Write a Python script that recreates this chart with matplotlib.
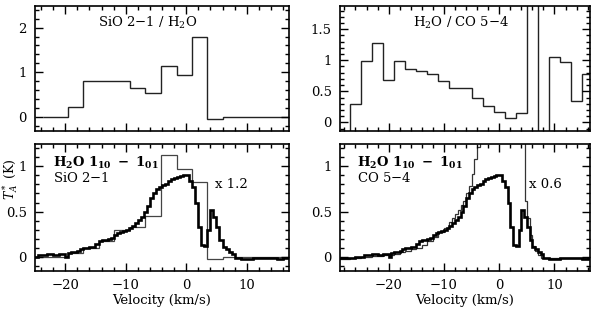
import matplotlib
matplotlib.use("Agg")
import matplotlib.pyplot as plt
from matplotlib.ticker import MultipleLocator

plt.rcParams["font.family"] = ["DejaVu Serif"]
plt.rcParams["mathtext.fontset"] = "dejavuserif"
plt.rcParams["font.size"] = 9.5

# --- ratio SiO 2-1 / H2O (top left) ---
sio_ratio_edges = [-23.7, -19.6, -17.0, -14.5, -11.9, -9.3, -6.8, -4.2, -1.6, 1.0, 3.5, 6.1, 17.0]
sio_ratio = [0.0, 0.22, 0.81, 0.81, 0.81, 0.64, 0.53, 1.13, 0.93, 1.79, -0.06, 0.0]

# --- ratio H2O / CO 5-4 (top right) ---
co_ratio_edges = [-29, -27, -25, -23, -21, -19, -17, -15, -13, -11, -9, -7, -5, -3, -1,
                  1, 3, 5, 7, 9, 11, 13, 15, 17]
co_ratio = [-0.5, 0.29, 0.98, 1.28, 0.68, 0.98, 0.86, 0.83, 0.78, 0.67, 0.56, 0.55,
            0.40, 0.27, 0.16, 0.07, 0.15, 5.0, -3.0, 1.06, 0.97, 0.34, 0.78]

# --- H2O 1_10 - 1_01 spectrum (thick, both bottom panels) ---
h2o_edges = [-29, -27.5, -26, -24.5, -23, -22, -21, -20, -19.5, -19, -18, -17.5, -17,
             -16, -15.5, -15, -14.5, -14, -13.5, -13, -12.5, -12, -11.5, -11, -10.5,
             -10, -9.5, -9, -8.5, -8, -7.5, -7, -6.5, -6, -5.5, -5, -4.5, -4, -3.5,
             -3, -2.5, -2, -1.5, -1, -0.5, 0, 0.5, 1.0, 1.5, 2.0, 2.5, 3.0, 3.5, 4.0,
             4.5, 5.0, 5.5, 6.0, 6.5, 7.0, 7.5, 8.0, 9, 10, 11, 12, 13, 14, 15, 16, 17]
h2o = [-0.02, -0.01, 0.0, 0.02, 0.03, 0.02, 0.03, 0.0, 0.04, 0.05, 0.06, 0.09,
       0.10, 0.11, 0.11, 0.14, 0.17, 0.19, 0.18, 0.20, 0.21, 0.24, 0.26, 0.27, 0.29,
       0.30, 0.32, 0.34, 0.37, 0.41, 0.44, 0.49, 0.56, 0.65, 0.71, 0.75, 0.77, 0.79,
       0.81, 0.84, 0.86, 0.87, 0.88, 0.89, 0.90, 0.91, 0.84, 0.77, 0.60, 0.33, 0.13,
       0.12, 0.30, 0.52, 0.44, 0.33, 0.19, 0.11, 0.08, 0.05, 0.03, -0.01, -0.03,
       -0.03, -0.02, -0.01, -0.01, -0.01, -0.03, -0.01]

# --- SiO 2-1 x 1.2 (thin, bottom left) ---
sio_edges = [-25.0, -19.6, -17.0, -14.5, -11.9, -9.3, -6.8, -4.2, -1.6, 1.0, 3.5, 6.1, 17.0]
sio = [0.0, 0.04, 0.10, 0.17, 0.30, 0.33, 0.45, 1.13, 0.97, 0.83, -0.03, 0.0]

# --- CO 5-4 x 0.6 (thin, bottom right) ---
co_edges = [-29, -27, -25, -23, -21, -19, -18, -17, -16, -15, -14, -13, -12, -11, -10,
            -9, -8.5, -8, -7.5, -7, -6.5, -6, -5.5, -5, -4.5, -4, -3.5, -3, -2, -1, 0,
            1, 2, 3, 4, 4.6, 5, 5.5, 6, 6.5, 7, 7.5, 8, 9, 10, 12, 14, 17]
co = [-0.03, -0.02, 0.0, 0.01, 0.02, 0.03, 0.05, 0.06, 0.08, 0.10, 0.13, 0.17, 0.22,
      0.27, 0.32, 0.38, 0.43, 0.47, 0.52, 0.57, 0.62, 0.70, 0.78, 0.92, 1.08, 1.22,
      1.45, 1.8, 2.2, 2.5, 2.6, 2.4, 2.0, 1.6, 1.4, 0.62, 0.43, 0.24, 0.12, 0.06,
      0.02, -0.01, -0.02, -0.02, -0.02, -0.01, -0.01]


def style_axes(ax, ymajor, yminor):
    ax.xaxis.set_major_locator(MultipleLocator(10))
    ax.xaxis.set_minor_locator(MultipleLocator(2))
    ax.yaxis.set_major_locator(MultipleLocator(ymajor))
    ax.yaxis.set_minor_locator(MultipleLocator(yminor))
    ax.tick_params(which="both", direction="in", top=True, right=True, width=1.0)
    ax.tick_params(which="major", length=6, pad=6)
    ax.tick_params(which="minor", length=3)
    for sp in ax.spines.values():
        sp.set_linewidth(1.2)


fig = plt.figure(figsize=(5.95, 3.12), dpi=100)
ax_tl = fig.add_axes([0.0588, 0.580, 0.427, 0.400])
ax_tr = fig.add_axes([0.5714, 0.580, 0.420, 0.400])
ax_bl = fig.add_axes([0.0588, 0.131, 0.427, 0.408])
ax_br = fig.add_axes([0.5714, 0.131, 0.420, 0.408])

# top left
ax_tl.stairs(sio_ratio, sio_ratio_edges, baseline=None, color="#222222", lw=1.0)
ax_tl.set_xlim(-25, 17)
ax_tl.set_ylim(-0.32, 2.48)
style_axes(ax_tl, 1, 0.2)
ax_tl.set_xticklabels([])
ax_tl.text(0.445, 0.865, r"SiO 2$-$1 / H$_2$O", transform=ax_tl.transAxes,
           ha="center", va="center")

# top right
ax_tr.stairs(co_ratio, co_ratio_edges, baseline=None, color="#222222", lw=1.0)
ax_tr.set_xlim(-28.8, 16.4)
ax_tr.set_ylim(-0.14, 1.87)
style_axes(ax_tr, 0.5, 0.1)
ax_tr.set_xticklabels([])
ax_tr.set_yticks([0, 0.5, 1, 1.5])
ax_tr.set_yticklabels(["0", "0.5", "1", "1.5"])
ax_tr.text(0.484, 0.865, r"H$_2$O / CO 5$-$4", transform=ax_tr.transAxes,
           ha="center", va="center")

# bottom left
ax_bl.stairs(sio, sio_edges, baseline=None, color="#444444", lw=0.9)
ax_bl.stairs(h2o, h2o_edges, baseline=None, color="black", lw=1.9)
ax_bl.set_xlim(-25, 17)
ax_bl.set_ylim(-0.16, 1.25)
style_axes(ax_bl, 0.5, 0.1)
ax_bl.set_yticks([0, 0.5, 1])
ax_bl.set_yticklabels(["0", "0.5", "1"])
ax_bl.text(0.07, 0.85, r"$\mathbf{H_2O\ 1_{10}\ -\ 1_{01}}$", transform=ax_bl.transAxes,
           ha="left", va="center")
ax_bl.text(0.07, 0.73, r"SiO 2$-$1", transform=ax_bl.transAxes, ha="left", va="center")
ax_bl.text(4.8, 0.8, "x 1.2", ha="left", va="center")
ax_bl.set_xlabel("Velocity (km/s)", labelpad=1)
ax_bl.set_ylabel(r"$T^*_A$ (K)", fontsize=9)
ax_bl.yaxis.set_label_coords(-0.06, 0.72)

# bottom right
ax_br.stairs(co, co_edges, baseline=None, color="#333333", lw=0.9)
ax_br.stairs(h2o, h2o_edges, baseline=None, color="black", lw=1.9)
ax_br.set_xlim(-28.8, 16.4)
ax_br.set_ylim(-0.16, 1.25)
style_axes(ax_br, 0.5, 0.1)
ax_br.set_yticks([0, 0.5, 1])
ax_br.set_yticklabels(["0", "0.5", "1"])
ax_br.text(0.067, 0.85, r"$\mathbf{H_2O\ 1_{10}\ -\ 1_{01}}$", transform=ax_br.transAxes,
           ha="left", va="center")
ax_br.text(0.067, 0.73, r"CO 5$-$4", transform=ax_br.transAxes, ha="left", va="center")
ax_br.text(5.4, 0.8, "x 0.6", ha="left", va="center")
ax_br.set_xlabel("Velocity (km/s)", labelpad=1)

fig.savefig("out.png", dpi=100)
